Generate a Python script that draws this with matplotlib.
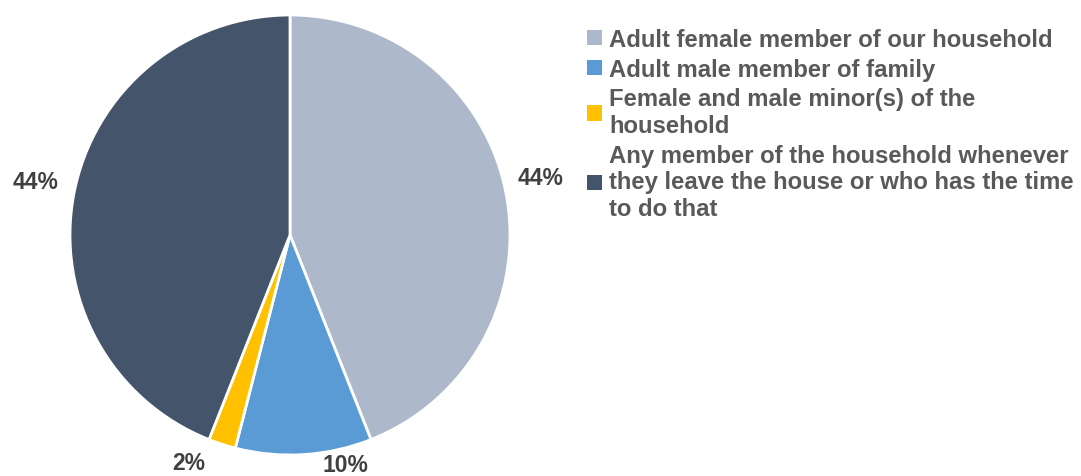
import numpy as np
import matplotlib.pyplot as plt

plt.rcParams['font.family'] = ['Liberation Sans', 'DejaVu Sans']

categories = [
    'Adult female member of our household',
    'Adult male member of family',
    'Female and male minor(s) of the\nhousehold',
    'Any member of the household whenever\nthey leave the house or who has the time\nto do that',
]
shares = [44, 10, 2, 44]
colors = ['#ADB9CA', '#5B9BD5', '#FFC000', '#44546A']

# label placement outside each wedge: (radius, angle nudge in degrees)
label_pos = [(1.17, 2), (1.075, 10), (1.13, -6), (1.18, -1)]

fig = plt.figure(figsize=(10.81, 4.77), dpi=100)
ax = fig.add_axes([70 / 1081, 21 / 477, 440 / 1081, 440 / 477])

wedges, _ = ax.pie(
    shares, colors=colors, startangle=90, counterclock=False,
    wedgeprops=dict(edgecolor='white', linewidth=2),
)
ax.set_xlim(-1, 1)
ax.set_ylim(-1, 1)
ax.set_aspect('equal')

for w, v, (r, nudge) in zip(wedges, shares, label_pos):
    mid = np.deg2rad((w.theta1 + w.theta2) / 2 + nudge)
    ax.text(r * np.cos(mid), r * np.sin(mid), f'{v}%', ha='center', va='center',
            fontsize=16.5, fontweight='bold', color='#404040', clip_on=False)

leg = fig.legend(wedges, categories, loc='upper left',
                 bbox_to_anchor=(587 / 1081, 1 - 29 / 477),
                 frameon=False, labelcolor='#595959',
                 prop=dict(size=17.2, weight='bold'),
                 handlelength=0.62, handleheight=0.62, handletextpad=0.3,
                 labelspacing=0.28, borderpad=0, borderaxespad=0)
for t in leg.get_texts():
    t.set_linespacing(1.2)
for h in leg.legend_handles:
    h.set_linewidth(0)

fig.savefig('out.png', dpi=100)
